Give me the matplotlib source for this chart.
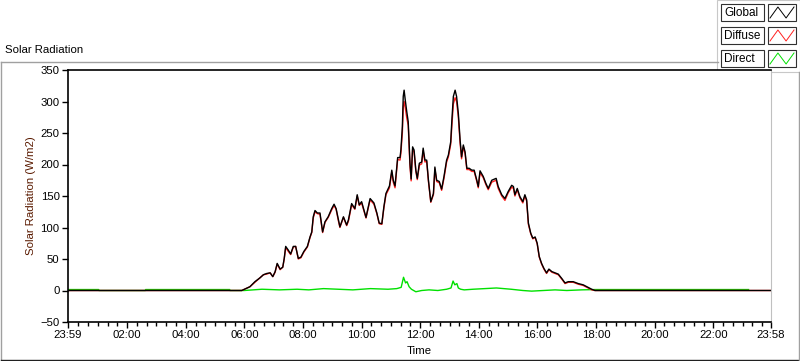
import numpy as np
import matplotlib
matplotlib.use("Agg")
import matplotlib.pyplot as plt
from matplotlib.patches import Rectangle

plt.rcParams["font.family"] = ["Liberation Sans", "DejaVu Sans"]

# time of day in hours (23:59 of the previous day = -1/60)
global_t = [-0.017, 5.91, 6.19, 6.36, 6.53, 6.65, 6.76, 6.88, 6.97, 7.05, 7.12,
            7.22, 7.31, 7.36, 7.41, 7.50, 7.58, 7.67, 7.75, 7.84, 7.93, 8.03,
            8.15, 8.24, 8.30, 8.35, 8.41, 8.49, 8.58, 8.67, 8.75, 8.86, 8.98,
            9.06, 9.13, 9.21, 9.26, 9.38, 9.49, 9.55, 9.66, 9.77, 9.85, 9.92,
            10.00, 10.15, 10.29, 10.42, 10.52, 10.60, 10.69, 10.76, 10.83,
            10.95, 11.03, 11.08, 11.14, 11.23, 11.31, 11.34, 11.39, 11.42,
            11.45, 11.49, 11.54, 11.59, 11.65, 11.69, 11.74, 11.79, 11.85,
            11.90, 11.97, 12.05, 12.10, 12.16, 12.22, 12.28, 12.36, 12.45,
            12.50, 12.56, 12.65, 12.73, 12.81, 12.90, 12.96, 13.04, 13.08,
            13.13, 13.19, 13.24, 13.30, 13.36, 13.41, 13.47, 13.53, 13.59,
            13.67, 13.76, 13.84, 13.93, 13.98, 14.04, 14.15, 14.24, 14.32,
            14.44, 14.59, 14.66, 14.78, 14.89, 15.00, 15.12, 15.18, 15.23,
            15.31, 15.40, 15.50, 15.57, 15.63, 15.69, 15.77, 15.84, 15.92,
            15.99, 16.06, 16.14, 16.22, 16.31, 16.39, 16.49, 16.60, 16.71,
            16.83, 16.94, 17.05, 17.22, 17.39, 17.56, 17.73, 17.85, 17.96,
            23.967]
global_w = [0, 0, 6, 14, 20, 25, 27, 28, 22, 30, 43,
            34, 37, 51, 70, 64, 58, 70, 70, 51, 53, 62,
            70, 85, 93, 117, 127, 123, 123, 93, 109, 117, 130,
            137, 130, 112, 101, 117, 104, 112, 138, 130, 152, 136,
            141, 116, 146, 139, 123, 107, 106, 133, 154,
            166, 191, 175, 166, 211, 211, 223, 260, 308,
            318, 302, 284, 268, 202, 177, 228, 223, 191,
            178, 202, 204, 226, 207, 207, 175, 141, 154,
            196, 175, 173, 161, 181, 207, 215, 236, 271,
            308, 318, 308, 281, 239, 212, 231, 220, 194,
            194, 191, 191, 175, 165, 190, 181, 170, 162,
            175, 178, 165, 152, 146, 157, 167, 165, 152,
            162, 149, 141, 152, 144, 107, 91, 83, 85,
            75, 54, 43, 35, 28, 34, 30, 28, 26,
            19, 12, 14, 14, 11, 9, 5, 2, 0,
            0]
diffuse_w = [0, 0, 6, 13, 20, 25, 26, 28, 22, 29, 42,
             33, 37, 50, 68, 62, 57, 69, 70, 50, 52, 61,
             69, 84, 92, 115, 125, 122, 121, 92, 108, 116, 128,
             135, 129, 110, 100, 116, 103, 110, 136, 129, 150, 135,
             139, 115, 144, 137, 122, 106, 105, 131, 152,
             163, 188, 172, 163, 208, 207, 218, 250, 290,
             300, 290, 274, 262, 197, 174, 224, 220, 189,
             176, 199, 201, 222, 204, 205, 173, 140, 152,
             193, 173, 171, 159, 178, 204, 212, 232, 262,
             296, 306, 300, 275, 234, 209, 228, 217, 192,
             192, 189, 189, 173, 163, 187, 179, 168, 160,
             172, 175, 162, 150, 143, 155, 164, 162, 150,
             160, 147, 139, 150, 142, 105, 90, 82, 84,
             74, 53, 42, 34, 27, 33, 29, 27, 25,
             18, 11, 13, 13, 10, 8, 4, 1, 0,
             0]
direct_t = [-0.017, 1.03, 1.04, 2.62, 2.63, 5.50, 5.51, 6.00, 6.60, 7.20,
            7.80, 8.20, 8.70, 9.20, 9.70, 10.30, 10.90, 11.20, 11.35, 11.43,
            11.50, 11.55, 11.62, 11.70, 11.85, 12.05, 12.30, 12.60, 12.90,
            13.05, 13.12, 13.18, 13.25, 13.30, 13.38, 13.50, 13.80, 14.20,
            14.60, 14.85, 15.10, 15.50, 15.80, 16.20, 16.60, 17.00, 17.50,
            17.96, 20.00, 23.20]
direct_w = [1.5, 1.5, 0, 0, 1.5, 1.5, 0, 0, 2, 1,
            2, 1, 3, 2, 1, 3, 2, 3, 5, 21,
            12, 14, 6, 2, -2, 0, 1, 0, 2,
            4, 15, 9, 11, 4, 2, 1, 2, 3,
            4, 3, 2, 0, -1, 0, 1, 0, 1,
            1.5, 1.5, 1.5]

series_names = ["Global", "Diffuse", "Direct"]
series_colors = ["#000000", "#ff2020", "#00e000"]

y_ticks = [-50, 0, 50, 100, 150, 200, 250, 300, 350]
x_ticks = [-1 / 60] + list(range(2, 24, 2)) + [23 + 58 / 60]
x_labels = ["23:59", "02:00", "04:00", "06:00", "08:00", "10:00", "12:00",
            "14:00", "16:00", "18:00", "20:00", "22:00", "23:58"]

W, H = 800, 361
fig = plt.figure(figsize=(W / 100, H / 100), dpi=100, facecolor="white")

# pixel overlay for frame, title and legend
ov = fig.add_axes([0, 0, 1, 1])
ov.set_xlim(0, W); ov.set_ylim(H, 0); ov.axis("off")
ov.plot([0.5, 718], [61.5, 61.5], color="#a0a0a0", lw=1)
ov.plot([0.5, 0.5], [61.5, 360], color="#a0a0a0", lw=1)
ov.plot([0.5, 799], [359.5, 359.5], color="#202020", lw=1)
ov.plot([798.5, 798.5], [72, 360], color="#a0a0a0", lw=1)
ov.text(5, 50, "Solar Radiation", fontsize=8.2, va="center", ha="left")
ov.add_patch(Rectangle((717, 0), 83, 72, facecolor="white",
                       edgecolor="#c8c8c8", lw=0.8))
zig_x = np.array([0, 0.33, 0.67, 1.0])
zig_y = np.array([1, 0, 1, 0])
for i, (name, col) in enumerate(zip(series_names, series_colors)):
    top = 4 + i * 23
    ov.add_patch(Rectangle((721, top), 43, 17, facecolor="white",
                           edgecolor="#303030", lw=0.8))
    ov.text(724, top + 9, name, fontsize=8.5, va="center", ha="left")
    ov.add_patch(Rectangle((768, top), 28, 17, facecolor="white",
                           edgecolor="#303030", lw=0.8))
    ov.plot(770 + zig_x * 24, top + 3 + zig_y * 11, color=col, lw=0.7)

ax = fig.add_axes([68 / W, 1 - 322 / H, 703 / W, 252 / H])
ax.plot(direct_t, direct_w, color=series_colors[2], lw=1.0)
ax.plot(global_t, diffuse_w, color=series_colors[1], lw=1.0)
ax.plot(global_t, global_w, color=series_colors[0], lw=1.0)

ax.set_xlim(-1 / 60, 23 + 58 / 60)
ax.set_ylim(-50, 350)
ax.set_yticks(y_ticks)
ax.set_xticks(x_ticks)
ax.set_xticklabels(x_labels)
ax.set_xticks(np.arange(20, 1438, 20) / 60, minor=True)
ax.tick_params(axis="both", which="major", labelsize=8.2, length=4,
               width=1, direction="out", pad=2)
ax.tick_params(axis="x", which="minor", length=3, width=1)
for s in ["left", "bottom", "top"]:
    ax.spines[s].set_color("black")
    ax.spines[s].set_linewidth(1.2)
ax.spines["right"].set_color("#c0c0c0")
ax.spines["right"].set_linewidth(0.8)
ax.set_ylabel("Solar Radiation (W/m2)", fontsize=8.2, color="#5a1a00",
              labelpad=3)
ax.set_xlabel("Time", fontsize=8.2, labelpad=4)

fig.savefig("out.png", dpi=100, facecolor="white")
